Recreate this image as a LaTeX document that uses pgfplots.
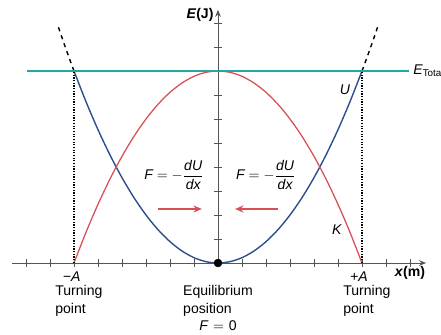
\documentclass[border=0pt]{standalone}
\usepackage{amsmath}
\usepackage{pgfplots}
\pgfplotsset{compat=1.18}
\usepackage{fontspec}
\setmainfont{Liberation Sans}
\usetikzlibrary{arrows.meta}

\definecolor{ublue}{RGB}{46,79,140}
\definecolor{kred}{RGB}{214,80,86}
\definecolor{etot}{RGB}{34,166,160}
\definecolor{axgray}{RGB}{85,85,85}

\newcommand{\force}{$\textit{F} = -\dfrac{\textit{dU}}{\textit{dx}}$}

\begin{document}
\begin{tikzpicture}
\begin{axis}[
    x=0.6cm, y=0.6cm,
    axis lines=middle,
    xmin=-8.58, xmax=8.67,
    ymin=0, ymax=10.55,
    xtick={-8,-7,-6,-5,-4,-3,-2,-1,1,2,3,4,5,6,7,8},
    ytick={1,2,3,4,5,6,7,8,9,10},
    xticklabels={}, yticklabels={},
    tick align=center,
    major tick length=5pt,
    tick style={axgray, line width=0.6pt},
    axis line style={axgray, line width=0.7pt, -{Stealth[length=5pt,width=4pt]}},
    clip=false,
]
% potential energy U = (2/9) x^2
\addplot[ublue, line width=1pt, smooth] coordinates {
    (-6,8) (-5.5,6.7222) (-5,5.5556) (-4.5,4.5) (-4,3.5556) (-3.5,2.7222)
    (-3,2) (-2.5,1.3889) (-2,0.8889) (-1.5,0.5) (-1,0.2222) (-0.5,0.0556)
    (0,0) (0.5,0.0556) (1,0.2222) (1.5,0.5) (2,0.8889) (2.5,1.3889)
    (3,2) (3.5,2.7222) (4,3.5556) (4.5,4.5) (5,5.5556) (5.5,6.7222) (6,8)};
% dashed continuation
\addplot[black, line width=1pt, dashed, smooth] coordinates {
    (-6,8) (-6.25,8.6806) (-6.5,9.3889) (-6.7,9.9756)};
\addplot[black, line width=1pt, dashed, smooth] coordinates {
    (6,8) (6.25,8.6806) (6.5,9.3889) (6.7,9.9756)};
% kinetic energy K = 8 - U
\addplot[kred, line width=0.9pt, smooth] coordinates {
    (-6,0) (-5.5,1.2778) (-5,2.4444) (-4.5,3.5) (-4,4.4444) (-3.5,5.2778)
    (-3,6) (-2.5,6.6111) (-2,7.1111) (-1.5,7.5) (-1,7.7778) (-0.5,7.9444)
    (0,8) (0.5,7.9444) (1,7.7778) (1.5,7.5) (2,7.1111) (2.5,6.6111)
    (3,6) (3.5,5.2778) (4,4.4444) (4.5,3.5) (5,2.4444) (5.5,1.2778) (6,0)};
% total energy
\addplot[etot, line width=0.9pt] coordinates {(-7.96,8) (7.96,8)};
% turning points
\addplot[black, line width=0.9pt, densely dotted] coordinates {(-6,0) (-6,8)};
\addplot[black, line width=0.9pt, densely dotted] coordinates {(6,0) (6,8)};
% force arrows
\addplot[kred, line width=1pt, -{Stealth[length=6pt,width=5pt]}] coordinates {(-2.5,2.25) (-0.67,2.25)};
\addplot[kred, line width=1pt, -{Stealth[length=6pt,width=5pt]}] coordinates {(2.5,2.25) (0.71,2.25)};
% equilibrium
\addplot[black, only marks, mark=*, mark size=2.8pt] coordinates {(0,0)};

\node[inner sep=0pt] at (axis cs:-1.83,3.67) {\force};
\node[inner sep=0pt] at (axis cs:2.0,3.67) {\force};
\node at (axis cs:5.29,7.21) {\textit{U}};
\node at (axis cs:4.96,1.375) {\textit{K}};
\node[anchor=west, inner sep=0pt] at (axis cs:8.125,8.0) {\textit{E}\textsubscript{Total}};
\node at (axis cs:-0.75,10.33) {\textbf{\textit{E}(J)}};
\node at (axis cs:8.0,-0.42) {\textbf{\textit{x}(m)}};
\node at (axis cs:-6.1,-0.55) {\textit{−A}};
\node at (axis cs:5.875,-0.55) {\textit{+A}};
\node[anchor=north west, align=left, inner sep=0pt, font=\linespread{1.1}\selectfont] at (axis cs:-6.79,-0.9) {Turning\\point};
\node[anchor=north west, align=left, inner sep=0pt, font=\linespread{1.1}\selectfont] at (axis cs:5.21,-0.9) {Turning\\point};
\node[anchor=north west, align=left, inner sep=0pt, font=\linespread{1.1}\selectfont] at (axis cs:-1.46,-0.9) {Equilibrium\\position};
\node at (axis cs:0,-2.6) {\textit{F}\,\,$=$\,\,0};

\coordinate (bl) at (axis cs:-9.083,-3.0);
\coordinate (tr) at (axis cs:9.292,10.958);
\end{axis}
\pgfresetboundingbox
\path[use as bounding box] (bl) rectangle (tr);
\end{tikzpicture}
\end{document}
